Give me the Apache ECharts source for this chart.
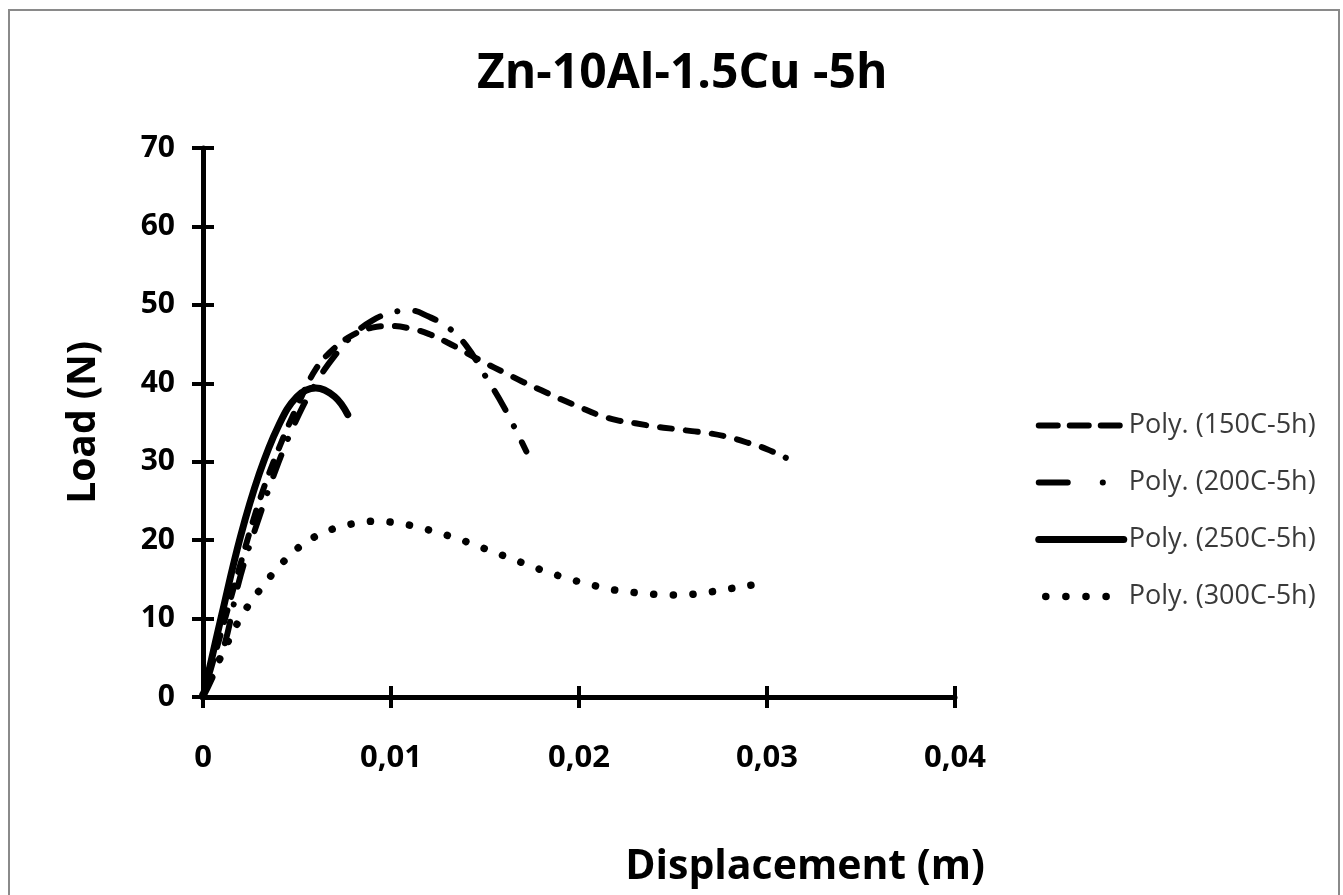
<!DOCTYPE html>
<html>
<head>
<meta charset="utf-8">
<script src="https://cdn.jsdelivr.net/npm/echarts@6/dist/echarts.min.js"></script>
<style>
html,body{margin:0;padding:0;background:#fff;}
#chart{width:1343px;height:895px;}
</style>
</head>
<body>
<div id="chart"></div>
<script>
// ---- data ----
const titleText = 'Zn-10Al-1.5Cu -5h';
const xName = 'Displacement (m)';
const yName = 'Load (N)';
const xTickLabels = ['0', '0,01', '0,02', '0,03', '0,04'];
const yTickLabels = ['0', '10', '20', '30', '40', '50', '60', '70'];
const seriesNames = ['Poly. (150C-5h)', 'Poly. (200C-5h)', 'Poly. (250C-5h)', 'Poly. (300C-5h)'];

const x150 = [0, 0.001, 0.002, 0.003, 0.004, 0.005, 0.006, 0.007, 0.008, 0.009, 0.010, 0.011, 0.012, 0.013, 0.014, 0.015, 0.016, 0.017, 0.018, 0.019, 0.020, 0.021, 0.022, 0.023, 0.024, 0.025, 0.026, 0.027, 0.028, 0.029, 0.030, 0.031];
const y150 = [0, 8.5, 17, 25, 31.5, 37, 41.8, 44.5, 46.2, 47.1, 47.3, 47.0, 46.3, 45.2, 43.9, 42.6, 41.4, 40.2, 39.1, 38.0, 37.0, 36.0, 35.3, 34.9, 34.5, 34.2, 33.9, 33.6, 33.1, 32.4, 31.6, 30.5];

const x200 = [0, 0.001, 0.002, 0.003, 0.004, 0.005, 0.006, 0.007, 0.008, 0.009, 0.010, 0.011, 0.012, 0.013, 0.014, 0.015, 0.016, 0.0172];
const y200 = [0, 5.5, 15.5, 23, 29.8, 35.5, 40, 43.5, 46.2, 48, 49, 49.3, 48.5, 47.2, 44.8, 41, 37, 31.3];

const x250 = [0, 0.001, 0.002, 0.003, 0.004, 0.005, 0.006, 0.007, 0.0077];
const y250 = [0, 10.5, 20.5, 28.5, 34.5, 38.3, 39.4, 38.3, 36];

const x300 = [0, 0.001, 0.002, 0.003, 0.004, 0.005, 0.006, 0.007, 0.008, 0.009, 0.010, 0.011, 0.012, 0.013, 0.014, 0.015, 0.016, 0.017, 0.018, 0.019, 0.020, 0.021, 0.022, 0.023, 0.024, 0.025, 0.026, 0.027, 0.028, 0.029, 0.030];
const y300 = [0.3, 5.4, 10.1, 13.6, 16.5, 18.9, 20.5, 21.5, 22.1, 22.4, 22.3, 21.9, 21.3, 20.6, 19.8, 18.9, 18.0, 17.1, 16.2, 15.4, 14.7, 14.1, 13.6, 13.3, 13.1, 13.0, 13.1, 13.4, 13.8, 14.2, 14.6];

// ---- build ----
const zip = (xs, ys) => xs.map((x, i) => [x, ys[i]]);
const FONT = 'Open Sans';

const styles = [
  { type: [12, 14], width: 6, cap: 'round' },
  { type: [22, 18, 0.1, 18], width: 6, cap: 'round' },
  { type: 'solid', width: 7, cap: 'round' },
  { type: [0.1, 19.5], width: 7.5, cap: 'round' }
];
const legendStyles = [
  { type: [19, 12], width: 6, cap: 'round' },
  { type: [29, 35, 0.1, 40], width: 6, cap: 'round' },
  { type: 'solid', width: 7, cap: 'round' },
  { type: [0.1, 20], width: 7.5, cap: 'round', dashOffset: -7 }
];
const datasets = [zip(x150, y150), zip(x200, y200), zip(x250, y250), zip(x300, y300)];

const axisCommonX = { type: 'value', min: 0, max: 0.04, interval: 0.01, gridIndex: 0, splitLine: { show: false } };
const axisCommonY = { type: 'value', min: 0, max: 70, interval: 10, gridIndex: 0, splitLine: { show: false } };

const chart = echarts.init(document.getElementById('chart'));
chart.setOption({
  backgroundColor: '#ffffff',
  animation: false,
  graphic: [{
    type: 'rect', silent: true, z: -10,
    shape: { x: 9, y: 10, width: 1330, height: 1000 },
    style: { fill: 'none', stroke: '#8a8a8a', lineWidth: 2 }
  }],
  title: {
    text: titleText, left: 472, top: 45,
    textStyle: { fontFamily: FONT, fontWeight: 'bold', fontSize: 48, color: '#000' }
  },
  grid: { left: 203, top: 148, width: 752, height: 549, containLabel: false },
  legend: {
    orient: 'vertical', left: 1030, top: 407,
    itemWidth: 85, itemHeight: 14, itemGap: 30,
    itemStyle: { color: 'rgba(0,0,0,0)', borderWidth: 0, opacity: 0 },
    textStyle: { fontFamily: FONT, fontSize: 27, color: '#3a3a3a', lineHeight: 27 },
    data: seriesNames.map((n, i) => ({ name: n, lineStyle: Object.assign({ color: '#000' }, legendStyles[i]) }))
  },
  xAxis: [
    Object.assign({}, axisCommonX, {
      position: 'bottom',
      name: xName, nameLocation: 'middle', nameGap: 150,
      nameTextStyle: { fontFamily: FONT, fontWeight: 'bold', fontSize: 41, color: '#000', padding: [0, 0, 0, 452] },
      axisLine: { show: true, lineStyle: { color: '#000', width: 5 } },
      axisTick: { show: true, inside: false, length: 11, lineStyle: { color: '#000', width: 4 } },
      axisLabel: { margin: 46, fontFamily: FONT, fontWeight: 'bold', fontSize: 31, color: '#000',
        formatter: (v, i) => xTickLabels[i] }
    }),
    Object.assign({}, axisCommonX, {
      position: 'bottom',
      axisLine: { show: false },
      axisTick: { show: true, inside: true, length: 11, lineStyle: { color: '#000', width: 4 } },
      axisLabel: { show: false }
    })
  ],
  yAxis: [
    Object.assign({}, axisCommonY, {
      position: 'left',
      name: yName, nameLocation: 'middle', nameGap: 100, nameRotate: 90,
      nameTextStyle: { fontFamily: FONT, fontWeight: 'bold', fontSize: 39, color: '#000' },
      axisLine: { show: true, lineStyle: { color: '#000', width: 5 } },
      axisTick: { show: true, inside: false, length: 11, lineStyle: { color: '#000', width: 4 } },
      axisLabel: { margin: 28, fontFamily: FONT, fontWeight: 'bold', fontSize: 30, color: '#000',
        formatter: (v, i) => yTickLabels[i] }
    }),
    Object.assign({}, axisCommonY, {
      position: 'left',
      axisLine: { show: false },
      axisTick: { show: true, inside: true, length: 11, lineStyle: { color: '#000', width: 4 } },
      axisLabel: { show: false }
    })
  ],
  series: seriesNames.map((n, i) => ({
    name: n, type: 'line', xAxisIndex: 0, yAxisIndex: 0,
    data: datasets[i], smooth: 0.4, symbol: 'none', showSymbol: false,
    lineStyle: Object.assign({ color: '#000' }, styles[i]),
    itemStyle: { color: '#000' },
    emphasis: { disabled: true }, silent: true
  }))
});
</script>
</body>
</html>
